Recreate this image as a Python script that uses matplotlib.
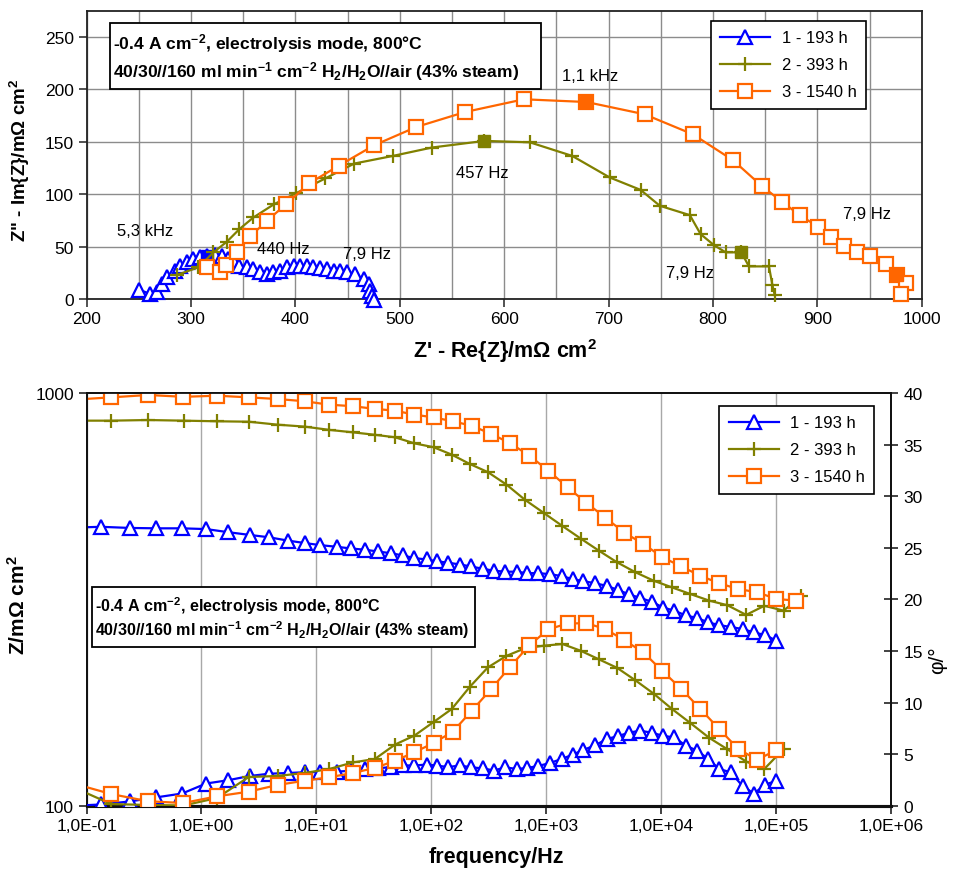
import numpy as np
import matplotlib
matplotlib.use('Agg')
import matplotlib.pyplot as plt
from matplotlib.patches import Rectangle
from matplotlib.ticker import MultipleLocator, FixedLocator, NullLocator, FuncFormatter

plt.rcParams['font.family'] = ['Liberation Sans', 'DejaVu Sans']
plt.rcParams['mathtext.default'] = 'regular'

W, H = 960, 870

series_labels = ['1 - 193 h', '2 - 393 h', '3 - 1540 h']
colors = ['#0000FF', '#808000', '#FF6600']
markers = ['^', '+', 's']

# --- Nyquist data (mOhm cm2) ---
nyq_re_1 = [250.6, 260.9, 267.9, 272.1, 277.5, 284.9, 289.6, 296.1, 302.4, 308.8,
            315.2, 323.2, 329.6, 336.0, 341.4, 346.5, 353.6, 359.9, 366.3, 372.8,
            379.1, 385.5, 392.0, 398.3, 404.7, 411.1, 417.4, 423.9, 430.3, 436.6,
            443.0, 449.5, 457.4, 465.4, 470.2, 471.8, 473.5, 475.0]
nyq_im_1 = [8.9, 4.8, 6.4, 14.3, 20.7, 27.0, 31.7, 35.0, 38.1, 39.7,
            41.2, 41.9, 41.2, 38.1, 35.5, 31.7, 30.2, 28.6, 25.4, 23.8,
            25.4, 27.0, 30.2, 31.7, 31.7, 31.1, 30.2, 29.2, 28.6, 27.0,
            27.0, 26.0, 23.8, 19.0, 14.3, 7.9, 3.2, -0.6]
nyq_fill_1 = [10]

nyq_re_2 = [286.5, 307.2, 321.6, 334.4, 346.5, 359.9, 379.8, 400.9, 428.7, 456.5,
            493.6, 531.0, 581.1, 624.5, 665.2, 701.2, 730.7, 749.2, 777.9, 788.2,
            801.0, 812.2, 827.2, 834.5, 853.7, 857.0, 859.2]
nyq_im_2 = [22.9, 30.2, 44.5, 54.6, 66.7, 77.8, 90.5, 101.0, 115.0, 129.2,
            136.5, 144.5, 150.8, 149.5, 136.5, 115.9, 104.1, 88.9, 80.0, 61.9,
            51.4, 44.5, 44.5, 31.1, 31.1, 13.3, 3.8]
nyq_fill_2 = [12, 22]

nyq_re_3 = [315.8, 328.0, 333.5, 344.0, 356.8, 372.8, 391.3, 413.6, 441.4, 475.6,
            515.9, 562.8, 619.0, 678.9, 734.5, 780.8, 819.2, 846.7, 865.9, 883.1,
            900.7, 912.9, 925.6, 937.8, 950.5, 966.2, 976.1, 984.8, 980.0]
nyq_im_3 = [30.2, 25.4, 32.4, 45.0, 59.7, 74.6, 90.5, 110.5, 127.0, 146.7,
            164.1, 178.4, 190.5, 187.9, 176.2, 157.1, 132.4, 107.9, 93.0, 80.0,
            68.9, 58.8, 50.8, 45.0, 40.7, 33.3, 22.9, 15.2, 4.8]
nyq_fill_3 = [13, 26]

nyq_notes = ['5,3 kHz', '440 Hz', '7,9 Hz', '457 Hz', '1,1 kHz', '7,9 Hz', '7,9 Hz']
nyq_note_re = [229, 363, 446, 554, 655, 755, 925]
nyq_note_im = [65, 48.6, 43.5, 121, 213, 25, 82]

# --- Bode data ---
freq_1 = [0.08, 0.134, 0.237, 0.406, 0.679, 1.10, 1.71, 2.63, 3.90, 5.62, 7.91,
          10.8, 15.0, 20.1, 26.7, 34.4, 44.7, 56.8, 71.6, 91.8, 112,
          141, 179, 221, 282, 353, 440, 556, 679, 857, 1080,
          1370, 1710, 2110, 2670, 3370, 4260, 5300, 6560, 8300, 10500,
          13000, 16500, 20700, 25800, 32100, 40400, 51300, 64400, 81300, 101000]
absz_1 = [472, 474, 471, 470, 470, 468, 460, 453, 447, 439, 433,
          428, 424, 420, 417, 413, 409, 404, 398, 395, 391,
          388, 384, 380, 375, 371, 369, 369, 366, 366, 364,
          360, 354, 350, 346, 341, 333, 325, 319, 312, 302,
          297, 289, 285, 278, 274, 271, 268, 263, 259, 251]
phase_1 = [0.0, 0.12, 0.41, 0.81, 1.18, 2.15, 2.47, 2.88, 3.10, 3.17, 3.24,
           3.27, 3.30, 3.39, 3.56, 3.62, 3.75, 3.90, 3.90, 3.99, 3.88,
           3.75, 3.90, 3.72, 3.62, 3.41, 3.72, 3.56, 3.65, 3.85, 4.14,
           4.53, 4.96, 5.40, 5.85, 6.46, 6.76, 7.08, 7.27, 7.08, 6.76,
           6.63, 5.82, 5.33, 4.53, 3.56, 3.24, 1.91, 1.18, 2.05, 2.42]

freq_2 = [0.08, 0.164, 0.344, 0.700, 1.37, 2.58, 4.60, 7.91, 13.0, 20.8, 32.4,
          48.6, 71.6, 105, 151, 217, 312, 452, 656, 957, 1390,
          2000, 2880, 4140, 5980, 8620, 12500, 17900, 26300, 37900, 55200,
          79400, 117000, 167000]
absz_2 = [857, 857, 860, 857, 854, 852, 838, 829, 814, 803, 792,
          781, 755, 739, 709, 673, 643, 600, 551, 512, 476,
          444, 415, 389, 368, 351, 338, 326, 314, 306, 290,
          305, 297, 322]
phase_2 = [1.7, 0.16, 0.07, 0.02, 0.75, 2.78, 2.88, 3.17, 3.56, 4.19, 4.53,
           5.93, 6.80, 8.11, 9.37, 11.52, 13.41, 14.52, 15.26, 15.51, 15.67,
           15.02, 14.19, 13.37, 12.16, 10.87, 9.37, 8.04, 6.58, 5.47, 4.28,
           3.56, 5.50, np.nan]

freq_3 = [0.08, 0.164, 0.344, 0.697, 1.37, 2.58, 4.60, 7.91, 12.9, 20.8, 32.6,
          48.6, 71.6, 105, 154, 226, 333, 486, 716, 1050, 1540,
          2240, 3280, 4790, 7020, 10300, 15000, 21900, 32000, 47000, 68700,
          101000, 149000]
absz_3 = [964, 976, 989, 979, 985, 976, 967, 955, 937, 929, 915,
          906, 886, 873, 854, 833, 796, 756, 705, 648, 591,
          542, 499, 459, 431, 400, 380, 361, 346, 335, 329,
          317, 314]
phase_3 = [2.1, 1.13, 0.43, 0.26, 0.91, 1.36, 2.01, 2.42, 2.75, 3.17, 3.67,
           4.36, 5.18, 6.08, 7.17, 9.21, 11.31, 13.46, 15.55, 17.10, 17.66,
           17.69, 17.13, 16.04, 14.87, 13.05, 11.34, 9.40, 7.46, 5.50, 4.46,
           5.38, np.nan]

box_lines = [r'-0.4 A cm$^{-2}$, electrolysis mode, 800°C',
             r'40/30//160 ml min$^{-1}$ cm$^{-2}$ H$_2$/H$_2$O//air (43% steam)']


def fx(x):
    return x / W


def fy(y):
    return 1 - y / H


def style(i):
    m = markers[i]
    kw = dict(color=colors[i], lw=1.6, marker=m, mec=colors[i], mew=1.6)
    if m == '+':
        kw.update(ms=10.5)
    else:
        kw.update(ms=10, mfc='white')
    return kw


def info_box(x0, y0, x1, y1, base1, base2, size):
    fig.patches.append(Rectangle((fx(x0), fy(y1)), fx(x1) - fx(x0), fy(y0) - fy(y1),
                                 transform=fig.transFigure, fc='white', ec='black',
                                 lw=1.3, zorder=5))
    fig.text(fx(x0 + 3), fy(base1), box_lines[0], fontsize=size, fontweight='bold',
             va='baseline', zorder=6)
    fig.text(fx(x0 + 3), fy(base2), box_lines[1], fontsize=size, fontweight='bold',
             va='baseline', zorder=6)


def add_legend(ax, right, top):
    leg = ax.legend(loc='upper right', bbox_to_anchor=(fx(right), fy(top)),
                    bbox_transform=fig.transFigure, fontsize=12, frameon=True,
                    fancybox=False, edgecolor='black', framealpha=1,
                    handlelength=3.0, handletextpad=0.7, labelspacing=0.72,
                    borderpad=0.55, borderaxespad=0)
    leg.get_frame().set_linewidth(1.2)
    leg.set_zorder(10)
    return leg


fig = plt.figure(figsize=(9.6, 8.7), dpi=100)
ax1 = fig.add_axes([fx(86.5), fy(300), fx(921.7) - fx(86.5), fy(11.7) - fy(300)])
ax2 = fig.add_axes([fx(86.5), fy(806.7), fx(890.7) - fx(86.5), fy(394) - fy(806.7)])
ax3 = ax2.twinx()

# ---------- Nyquist ----------
nyq = [(nyq_re_1, nyq_im_1, nyq_fill_1),
       (nyq_re_2, nyq_im_2, nyq_fill_2),
       (nyq_re_3, nyq_im_3, nyq_fill_3)]
for i, (re, im, fill) in enumerate(nyq):
    ax1.plot(re, im, label=series_labels[i], clip_on=False, zorder=3 + i, **style(i))
    ax1.plot(np.array(re)[fill], np.array(im)[fill], ls='none', marker='s', ms=9,
             color=colors[i], mec=colors[i], clip_on=False, zorder=3.5 + i)

for t, x, y in zip(nyq_notes, nyq_note_re, nyq_note_im):
    ax1.text(x, y, t, fontsize=12, ha='left', va='center', zorder=8)

ax1.set_xlim(200, 1000)
ax1.set_ylim(0, 275)
ax1.xaxis.set_major_locator(MultipleLocator(100))
ax1.xaxis.set_minor_locator(MultipleLocator(50))
ax1.yaxis.set_major_locator(FixedLocator([0, 50, 100, 150, 200, 250]))
ax1.yaxis.set_minor_locator(FixedLocator([50, 100, 150, 200, 250]))
ax1.grid(True, which='both', color='#8c8c8c', lw=1)
ax1.set_axisbelow(True)
ax1.tick_params(which='major', labelsize=12.5, direction='out', length=6, width=1.2,
                color='#333333', pad=3)
ax1.tick_params(which='minor', length=0)
for s in ax1.spines.values():
    s.set_linewidth(1.3)
    s.set_color('#222222')

add_legend(ax1, 865.7, 22.3)

fig.text(fx(505), fy(351), "Z' - Re{Z}/m\u03a9 cm$^2$", fontsize=15.5, fontweight='bold',
         ha='center', va='center')
fig.text(fx(20), fy(160), 'Z" - Im{Z}/m\u03a9 cm$^2$', fontsize=13.5, fontweight='bold',
         ha='center', va='center', rotation=90)

info_box(110, 24, 541, 90, 49.5, 77, 12.6)

# ---------- Bode ----------
bode = [(freq_1, absz_1, phase_1), (freq_2, absz_2, phase_2), (freq_3, absz_3, phase_3)]
for i, (f, z, p) in enumerate(bode):
    ax2.plot(f, z, zorder=3 + i, **style(i))
    ax3.plot(f, p, label=series_labels[i], zorder=3 + i, **style(i))

ax2.set_xscale('log')
ax2.set_yscale('log')
ax2.set_xlim(0.1, 1e6)
ax2.set_ylim(100, 1000)
ax3.set_ylim(0, 40)
ax2.xaxis.set_major_locator(FixedLocator([10.0 ** e for e in range(-1, 7)]))
ax2.xaxis.set_minor_locator(NullLocator())
ax2.xaxis.set_major_formatter(FuncFormatter(lambda v, pos: '1,0E%+03d' % int(round(np.log10(v)))))
ax2.yaxis.set_major_locator(FixedLocator([100, 1000]))
ax2.yaxis.set_minor_locator(NullLocator())
ax2.yaxis.set_major_formatter(FuncFormatter(lambda v, pos: '%d' % v))
ax3.yaxis.set_major_locator(MultipleLocator(5))
ax2.grid(True, which='major', axis='x', color='#a8a8a8', lw=1)
ax2.set_axisbelow(True)
ax2.tick_params(which='major', labelsize=12.5, direction='out', length=6, width=1.2,
                color='#222222', pad=3)
ax3.tick_params(which='major', labelsize=12.5, direction='inout', length=10, width=1.2,
                color='#222222', pad=4)
for a in (ax2, ax3):
    for s in a.spines.values():
        s.set_linewidth(1.3)
        s.set_color('#111111')
    a.spines['bottom'].set_linewidth(2.2)

add_legend(ax3, 874.3, 407.3)

fig.text(fx(496), fy(858), 'frequency/Hz', fontsize=15.5, fontweight='bold',
         ha='center', va='center')
fig.text(fx(18), fy(605), 'Z/m\u03a9 cm$^2$', fontsize=15, fontweight='bold',
         ha='center', va='center', rotation=90)
fig.text(fx(938), fy(660), '\u03c6/°', fontsize=15, ha='center', va='center', rotation=90)

info_box(91.7, 588.3, 475, 648.3, 612, 636, 11.6)

fig.savefig('out.png', dpi=100)
